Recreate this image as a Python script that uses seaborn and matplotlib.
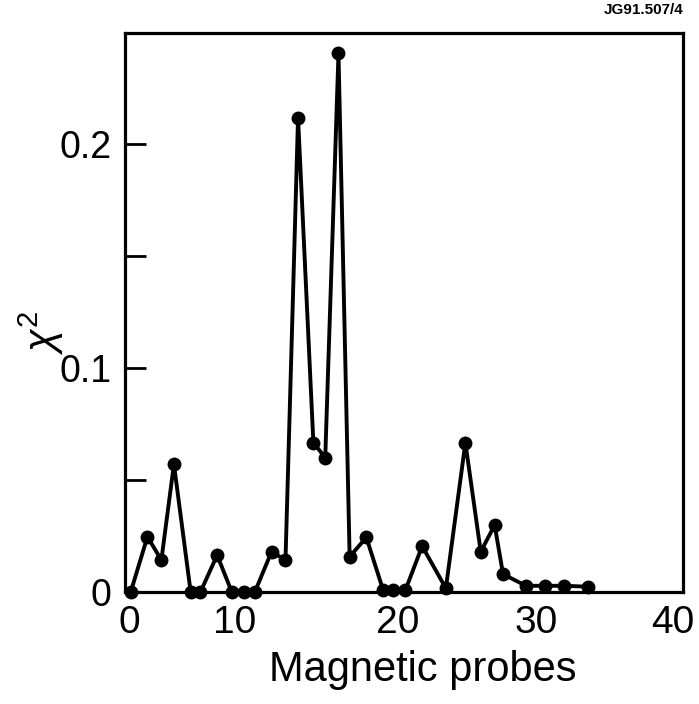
import pandas as pd
import seaborn as sns
import numpy as np
import matplotlib.pyplot as plt
import matplotlib
from matplotlib.transforms import ScaledTranslation

# probe position and chi^2
probe = [0.4, 1.6, 2.6, 3.5, 4.7, 5.4, 6.6, 7.65, 8.5, 9.3, 10.5, 11.5, 12.4,
         13.5, 14.35, 15.3, 16.1, 17.3, 18.5, 19.2, 20.1, 21.3, 23.0, 24.4,
         25.5, 26.5, 27.1, 28.75, 30.1, 31.5, 33.2]
chi2 = [0.0, 0.0247, 0.0143, 0.0571, 0.0, 0.0, 0.0165, 0.0, 0.0, 0.0, 0.018,
        0.0143, 0.2119, 0.0667, 0.060, 0.2405, 0.0158, 0.0244, 0.0009, 0.0009,
        0.0009, 0.0205, 0.0017, 0.0667, 0.018, 0.0299, 0.008, 0.0028, 0.0028,
        0.0028, 0.0024]
x_ticks = [0, 10, 20, 30, 40]
y_ticks = [0, 0.1, 0.2]
y_ticklabels = ["0", "0.1", "0.2"]

sns.set_style("ticks")
matplotlib.rcParams['font.family'] = ['Liberation Sans', 'DejaVu Sans']
matplotlib.rcParams['mathtext.fontset'] = 'custom'
matplotlib.rcParams['mathtext.rm'] = 'Liberation Sans'
matplotlib.rcParams['mathtext.it'] = 'Liberation Sans:italic'
matplotlib.rcParams['text.color'] = 'black'
matplotlib.rcParams['xtick.color'] = 'black'
matplotlib.rcParams['ytick.color'] = 'black'
matplotlib.rcParams['axes.labelcolor'] = 'black'

df = pd.DataFrame({"probe": probe, "chi2": chi2})

fig = plt.figure(figsize=(6.99, 7.04), dpi=100)
ax = fig.add_axes([0.179, 0.159, 0.798, 0.794])

sns.lineplot(data=df, x="probe", y="chi2", ax=ax, color="black",
             linewidth=2.8, marker="o", markersize=10, markeredgewidth=0,
             clip_on=False, zorder=3)

ax.set_xlim(0, 40)
ax.set_ylim(0, 0.2496)
ax.set_xticks(x_ticks)
ax.set_yticks(y_ticks)
ax.set_yticklabels(y_ticklabels)
ax.set_yticks([0.05, 0.15], minor=True)

ax.tick_params(axis="x", length=0, pad=9, labelsize=28)
ax.tick_params(axis="y", which="both", direction="in", length=15, width=2,
               pad=10, labelsize=27)

# the hand lettered labels sit a bit off their ticks in the original
x_shift = [4, -30, -6, -7, -10]
for lab, dx in zip(ax.get_xticklabels(), x_shift):
    lab.set_transform(lab.get_transform() + ScaledTranslation(dx / 100, 0, fig.dpi_scale_trans))

for s in ax.spines.values():
    s.set_linewidth(2.3)
    s.set_color("black")

ax.set_xlabel("Magnetic probes", fontsize=30)
ax.xaxis.set_label_coords(0.534, -0.103)
ax.set_ylabel("")
fig.text(41 / 699, 1 - 333 / 704, r"$\chi^2$", rotation=90, ha="center",
         va="center", fontsize=30)

fig.text(0.978, 0.996, "JG91.507/4", ha="right", va="top",
         fontsize=11, fontweight="bold")

plt.savefig("out.png", dpi=100)
